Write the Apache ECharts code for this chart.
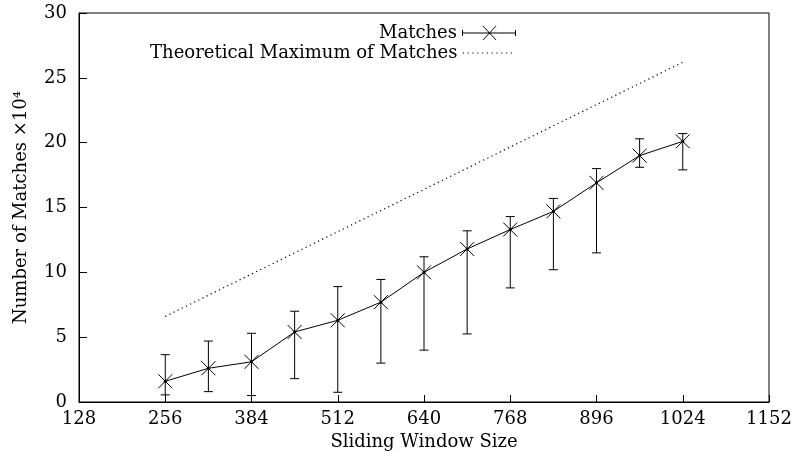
<!DOCTYPE html>
<html>
<head>
<meta charset="utf-8">
<script src="https://cdn.jsdelivr.net/npm/echarts@6/dist/echarts.min.js"></script>
<style>
  html, body { margin: 0; padding: 0; background: #fff; }
  #chart { width: 795px; height: 463px; }
</style>
</head>
<body>
<div id="chart"></div>
<script>
// window sizes and matches (x10^4), with min/max error bars
var windowSizes = [256, 320, 384, 448, 512, 576, 640, 704, 768, 832, 896, 960, 1024];
var matchMean   = [1.6, 2.6, 3.1, 5.4, 6.3, 7.7, 10.0, 11.8, 13.3, 14.7, 16.9, 19.0, 20.1];
var matchLow    = [0.55, 0.8, 0.5, 1.8, 0.75, 3.0, 4.0, 5.25, 8.8, 10.2, 11.5, 18.1, 17.9];
var matchHigh   = [3.65, 4.7, 5.3, 7.0, 8.9, 9.45, 11.2, 13.2, 14.3, 15.7, 18.0, 20.3, 20.7];

// theoretical maximum (dotted line)
var theoX = [256, 1024];
var theoY = [6.6, 26.2];

var xTicks = { min: 128, max: 1152, step: 128 };
var yTicks = { min: 0, max: 30, step: 5 };

var font = 'DejaVu Serif';
var fs = 18;
var txt = { fontFamily: font, fontSize: fs, color: '#000' };

var lineData = windowSizes.map(function (x, i) { return [x, matchMean[i]]; });
var barData = windowSizes.map(function (x, i) { return [x, matchMean[i], matchLow[i], matchHigh[i]]; });
var theoData = theoX.map(function (x, i) { return [x, theoY[i]]; });

var matchIcon = 'path://M0 6.5H54V7.5H0Z M0 4H1V10H0Z M53 4H54V10H53Z ' +
    'M20.5 0L21.5 0L34.5 14L33.5 14Z M33.5 0L34.5 0L21.5 14L20.5 14Z';
// row of small dots, 50 wide
var dotIcon = 'path://';
for (var d = 0; d < 11; d++) {
    dotIcon += 'M' + (d * 4.8) + ' 0h1.2v1.2h-1.2Z ';
}

function renderBar(params, api) {
    var x = api.value(0);
    var c = api.coord([x, api.value(1)]);
    var lo = api.coord([x, api.value(2)]);
    var hi = api.coord([x, api.value(3)]);
    var st = { stroke: '#000', lineWidth: 1 };
    var cw = 4.5, m = 7;
    return {
        type: 'group',
        children: [
            { type: 'line', shape: { x1: lo[0], y1: lo[1], x2: hi[0], y2: hi[1] }, style: st },
            { type: 'line', shape: { x1: lo[0] - cw, y1: lo[1], x2: lo[0] + cw, y2: lo[1] }, style: st },
            { type: 'line', shape: { x1: hi[0] - cw, y1: hi[1], x2: hi[0] + cw, y2: hi[1] }, style: st },
            { type: 'line', shape: { x1: c[0] - m, y1: c[1] - m, x2: c[0] + m, y2: c[1] + m }, style: st },
            { type: 'line', shape: { x1: c[0] - m, y1: c[1] + m, x2: c[0] + m, y2: c[1] - m }, style: st }
        ]
    };
}

var myChart = echarts.init(document.getElementById('chart'));
var option = {
    backgroundColor: '#fff',
    animation: false,
    textStyle: { fontFamily: font, color: '#000' },
    grid: {
        left: 79, right: 26, top: 13, bottom: 61,
        show: true, borderColor: '#000', borderWidth: 1
    },
    legend: [{
        data: [{ name: 'Matches', icon: matchIcon, textStyle: txt }],
        orient: 'vertical',
        right: 279, top: 24,
        align: 'right',
        itemWidth: 54, itemHeight: 14,
        padding: 0,
        textStyle: txt,
        selectedMode: false
    }, {
        data: [{ name: 'Theoretical Maximum of Matches', icon: dotIcon, textStyle: txt }],
        orient: 'vertical',
        right: 283, top: 44,
        align: 'right',
        itemWidth: 50, itemHeight: 1.2,
        padding: 0,
        textStyle: txt,
        selectedMode: false
    }],
    xAxis: {
        type: 'value',
        min: xTicks.min, max: xTicks.max, interval: xTicks.step,
        name: 'Sliding Window Size',
        nameLocation: 'middle', nameGap: 28,
        nameTextStyle: txt,
        axisLine: { show: true, lineStyle: { color: '#000', width: 1 } },
        axisTick: { show: true, inside: true, length: 7, lineStyle: { color: '#000' } },
        axisLabel: { fontFamily: font, fontSize: fs, color: '#000', margin: 8,
            formatter: function (v) { return String(v); } },
        splitLine: { show: false }
    },
    yAxis: {
        type: 'value',
        min: yTicks.min, max: yTicks.max, interval: yTicks.step,
        name: 'Number of Matches ×10⁴',
        nameLocation: 'middle', nameGap: 49, nameRotate: 90,
        nameTextStyle: txt,
        axisLine: { show: true, lineStyle: { color: '#000', width: 1 } },
        axisTick: { show: true, inside: true, length: 8, lineStyle: { color: '#000' } },
        axisLabel: { fontFamily: font, fontSize: fs, color: '#000', margin: 12 },
        splitLine: { show: false }
    },
    series: [{
        name: 'Matches',
        type: 'line',
        data: lineData,
        color: '#000',
        symbol: 'circle', symbolSize: 3,
        lineStyle: { color: '#000', width: 1 },
        itemStyle: { color: '#000' },
        z: 3
    }, {
        name: 'Matches bars',
        type: 'custom',
        data: barData,
        renderItem: renderBar,
        encode: { x: 0, y: [1, 2, 3] },
        z: 2
    }, {
        name: 'Theoretical Maximum of Matches',
        type: 'line',
        data: theoData,
        color: '#000',
        symbol: 'none',
        lineStyle: { color: '#000', width: 1.2, type: [1.2, 3.4] },
        z: 2
    }]
};
myChart.setOption(option);
</script>
</body>
</html>
